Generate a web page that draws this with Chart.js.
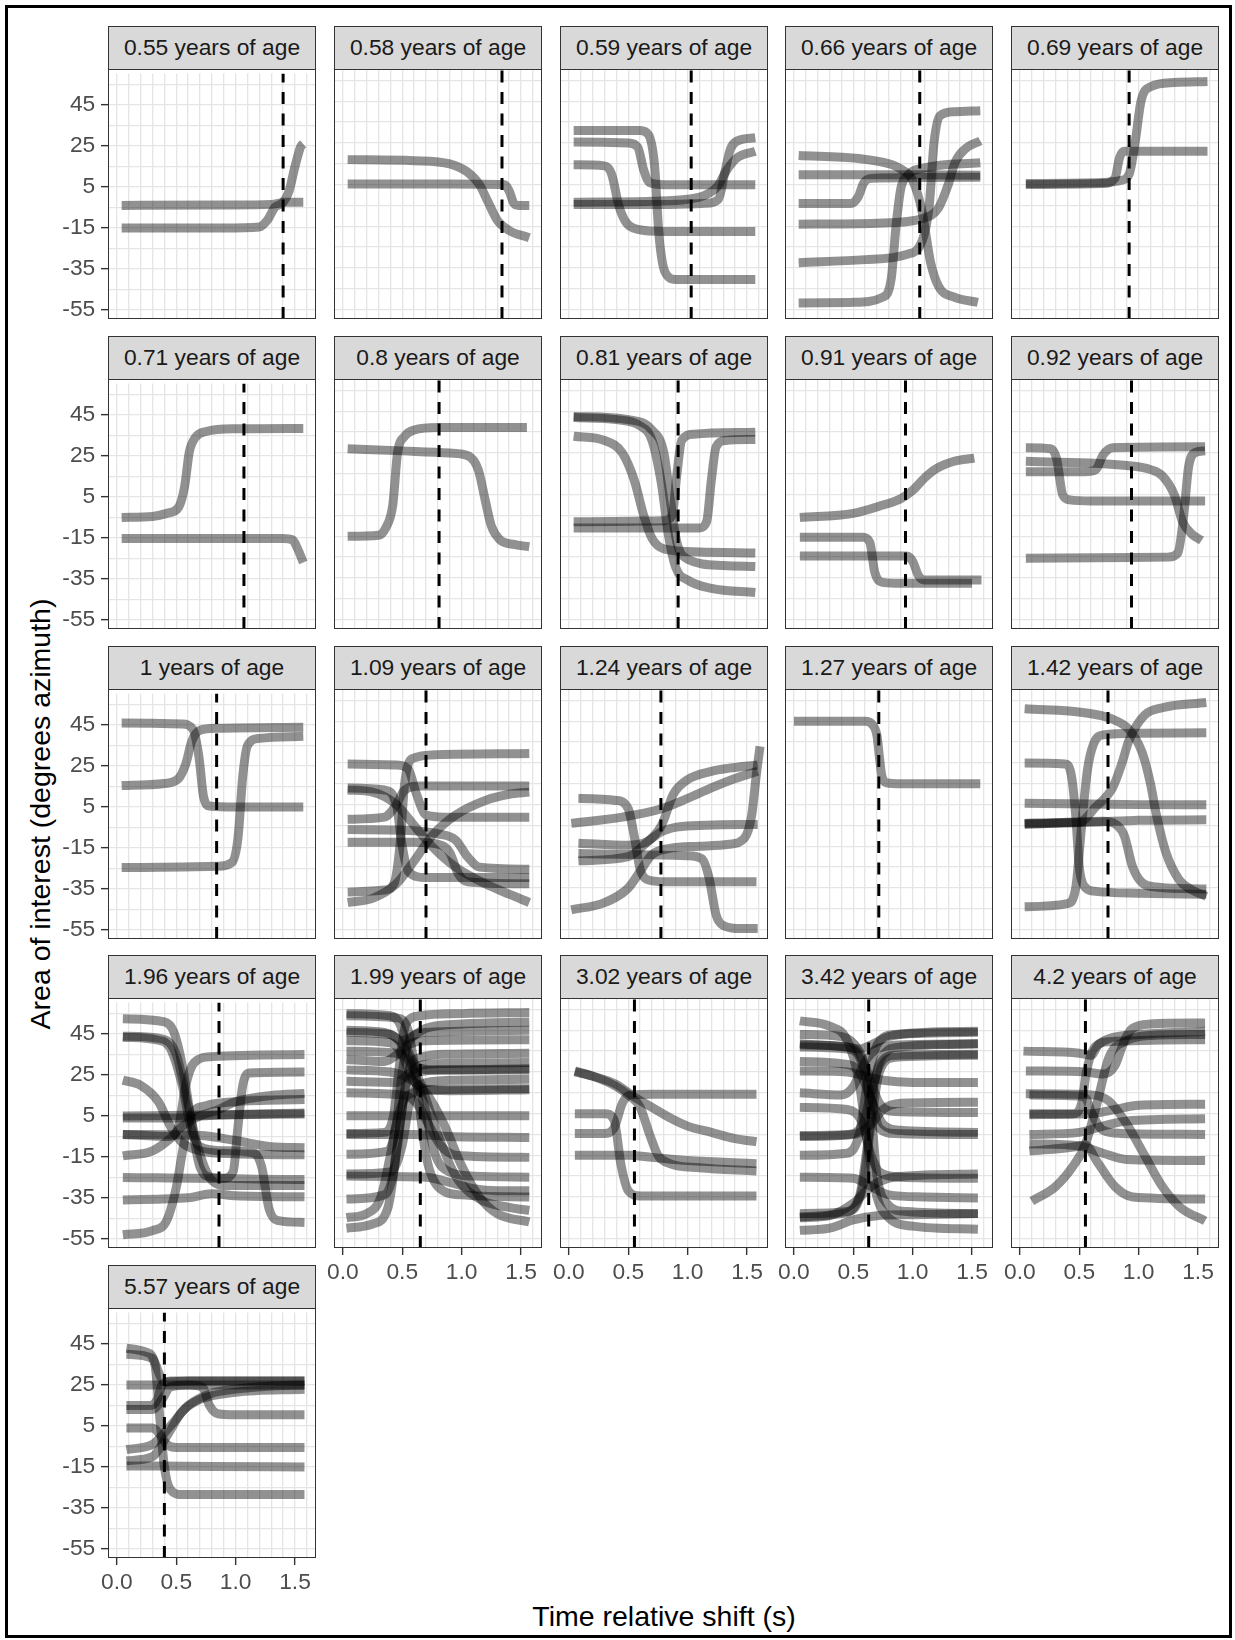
<!DOCTYPE html>
<html>
<head>
<meta charset="utf-8">
<script src="https://cdn.jsdelivr.net/npm/chart.js@4.4.1/dist/chart.umd.min.js"></script>
<style>
  body { margin: 0; background: #fff; }
  #page { position: relative; width: 1235px; height: 1640px; overflow: hidden; font-family: "Liberation Sans", Arial, sans-serif; }
  #frame { position: absolute; left: 5px; top: 5px; width: 1221px; height: 1627px; border: 3px solid #000; }
  .strip { position: absolute; box-sizing: border-box; background: #d9d9d9; border: 1.4px solid #333; color: #1a1a1a; font-size: 22.8px; text-align: center; line-height: 41px; white-space: nowrap; }
  .pborder { position: absolute; box-sizing: border-box; border: 1.4px solid #333; pointer-events: none; }
  canvas { position: absolute; }
  .title { position: absolute; font-size: 28.5px; color: #000; white-space: nowrap; }
</style>
</head>
<body>
<div id="page">
  <div id="frame"></div>
  <div class="title" id="ytitle" style="left:40px;top:814px;transform:translate(-50%,-50%) rotate(-90deg);">Area of interest (degrees azimuth)</div>
  <div class="title" id="xtitle" style="left:664px;top:1616px;transform:translate(-50%,-50%);">Time relative shift (s)</div>
</div>
<script>
// Facets
const panelAges = ['0.55', '0.58', '0.59', '0.66', '0.69', '0.71', '0.8', '0.81', '0.91', '0.92',
  '1', '1.09', '1.24', '1.27', '1.42', '1.96', '1.99', '3.02', '3.42', '4.2', '5.57'];
// dashed vertical line per facet (s)
const dashX = [1.40, 1.34, 1.03, 1.06, 0.92, 1.07, 0.81, 0.92, 0.94, 0.94,
  0.84, 0.70, 0.775, 0.715, 0.742, 0.86, 0.652, 0.552, 0.63, 0.552, 0.40];

// Axes
const xTicks = [0, 0.5, 1, 1.5];
const yTicks = [45, 25, 5, -15, -35, -55];
const xGrid = [0, 0.1, 0.2, 0.3, 0.4, 0.5, 0.6, 0.7, 0.8, 0.9, 1, 1.1, 1.2, 1.3, 1.4, 1.5, 1.6];
const yGrid = [55, 45, 35, 25, 15, 5, -5, -15, -25, -35, -45, -55];

// Curves per facet: [time, azimuth]
const p055 = [
  [[0.04, -4], [0.9, -3.8], [1.3, -3.5], [1.42, -2.5], [1.57, -2.5]],
  [[0.04, -15], [0.9, -15], [1.2, -14.5], [1.27, -11], [1.33, -5], [1.4, -2.5], [1.45, 3], [1.5, 15], [1.55, 25], [1.57, 26]]
];
const p058 = [
  [[0.04, 17], [0.6, 16.5], [0.9, 15], [1.05, 11], [1.15, 5], [1.22, -3], [1.3, -12], [1.4, -17], [1.57, -20.5]],
  [[0.04, 5.3], [0.9, 5.3], [1.36, 5], [1.4, 2], [1.44, -4], [1.48, -5], [1.57, -5]]
];
const p059 = [
  [[0.04, 31], [0.6, 31], [0.67, 29], [0.72, 15], [0.76, -20], [0.81, -37], [0.9, -40.5], [1.57, -40.5]],
  [[0.04, 25.5], [0.5, 25], [0.58, 23], [0.63, 12], [0.68, 6], [0.8, 5], [1.57, 5]],
  [[0.04, 14.5], [0.3, 14], [0.36, 10], [0.42, -5], [0.48, -13], [0.58, -16.5], [0.8, -17.5], [1.57, -17.5]],
  [[0.04, -3.5], [0.7, -3], [1.0, -2], [1.15, 0], [1.25, 4], [1.33, 12], [1.42, 18], [1.57, 21]],
  [[0.04, -4.5], [0.8, -4.5], [1.15, -4], [1.26, -2], [1.31, 10], [1.36, 22], [1.42, 26], [1.57, 27.5]]
];
const p066 = [
  [[0.04, 19], [0.55, 17.5], [0.8, 15], [0.9, 12.5], [1.0, 7], [1.08, -8], [1.15, -32], [1.22, -44], [1.35, -49], [1.55, -51.5]],
  [[0.04, 9.8], [0.8, 9.8], [1.57, 9.5]],
  [[0.04, -4], [0.48, -4], [0.54, -1], [0.59, 6], [0.65, 8], [1.57, 8.5]],
  [[0.04, -14], [0.7, -13.5], [1.1, -11], [1.22, -6], [1.3, 5], [1.36, 16], [1.44, 22], [1.57, 26]],
  [[0.04, -32.5], [0.6, -31], [0.95, -28.5], [1.08, -22], [1.14, -5], [1.18, 25], [1.23, 38], [1.35, 40], [1.57, 40.5]],
  [[0.04, -51.8], [0.5, -51.5], [0.75, -49], [0.82, -40], [0.86, -15], [0.9, 3], [0.95, 9], [1.1, 13], [1.57, 15.5]]
];
const p069 = [
  [[0.05, 5.5], [0.7, 6], [0.85, 7], [0.92, 10], [0.97, 25], [1.02, 45], [1.1, 52], [1.3, 54], [1.58, 54.5]],
  [[0.05, 5], [0.7, 5.5], [0.8, 8], [0.84, 18], [0.88, 21], [1.58, 21]]
];
const p071 = [
  [[0.04, -5], [0.3, -4.5], [0.42, -3], [0.52, 0], [0.57, 10], [0.61, 27], [0.66, 34], [0.75, 37], [1.0, 38.3], [1.57, 38.5]],
  [[0.04, -15.3], [1.4, -15.3], [1.48, -16], [1.52, -20], [1.57, -27]]
];
const p080 = [
  [[0.04, -15], [0.3, -14.5], [0.36, -11], [0.42, 0], [0.46, 25], [0.52, 33], [0.6, 36], [0.8, 37.2], [1.55, 37.2]],
  [[0.04, 27], [0.5, 26], [0.9, 25], [1.06, 23.5], [1.14, 17], [1.2, 2], [1.25, -10], [1.32, -16.5], [1.45, -19], [1.57, -20]]
];
const p081 = [
  [[0.04, 42], [0.4, 41], [0.6, 38], [0.7, 31], [0.78, 10], [0.84, -15], [0.9, -30], [1.0, -36], [1.2, -40], [1.57, -42]],
  [[0.04, 42.5], [0.5, 41], [0.7, 36], [0.8, 25], [0.86, 0], [0.91, -18], [1.0, -26], [1.3, -29], [1.57, -29.5]],
  [[0.04, 33], [0.3, 31], [0.45, 25], [0.55, 12], [0.63, -5], [0.7, -16], [0.8, -21], [1.1, -22.5], [1.57, -23]],
  [[0.04, -8], [0.8, -7.5], [0.87, -5], [0.91, 15], [0.95, 31], [1.05, 34], [1.57, 35]],
  [[0.04, -11], [1.1, -11], [1.16, -8], [1.2, 12], [1.24, 28], [1.32, 31], [1.57, 31.5]]
];
const p091 = [
  [[0.05, -6], [0.5, -4], [0.75, 0], [0.9, 3], [1.0, 7], [1.1, 13], [1.2, 17.5], [1.35, 21], [1.52, 22.5]],
  [[0.05, -15.5], [0.58, -15.5], [0.64, -18], [0.68, -32], [0.74, -37], [0.85, -37.5], [1.5, -37.5]],
  [[0.05, -24.5], [0.95, -24.5], [1.0, -27], [1.05, -34], [1.1, -36], [1.58, -36]]
];
const p092 = [
  [[0.05, 27.5], [0.26, 27], [0.31, 22], [0.36, 5], [0.42, 2.5], [0.6, 2], [1.56, 2]],
  [[0.05, 16], [0.55, 16], [0.64, 17], [0.7, 24], [0.78, 27.5], [1.56, 28]],
  [[0.05, 21], [0.9, 19], [1.1, 17], [1.2, 14], [1.3, 5], [1.37, -8], [1.45, -14], [1.53, -17]],
  [[0.05, -25.5], [1.25, -25], [1.33, -23], [1.38, -5], [1.42, 18], [1.47, 25], [1.56, 26]]
];
const p100 = [
  [[0.04, 46], [0.55, 45.5], [0.64, 43], [0.69, 30], [0.73, 10], [0.78, 5.5], [1.0, 5], [1.57, 5]],
  [[0.04, 15.5], [0.4, 16.5], [0.52, 19], [0.58, 26], [0.63, 37], [0.7, 42.5], [0.85, 43.5], [1.57, 44]],
  [[0.04, -24.6], [0.85, -24], [0.97, -22], [1.02, -10], [1.06, 20], [1.1, 35], [1.2, 38.5], [1.57, 39.5]]
];
const p109 = [
  [[0.04, 24.5], [0.45, 24], [0.55, 22], [0.62, 10], [0.7, 0], [0.85, -1], [1.57, -1]],
  [[0.04, 12], [0.25, 11], [0.45, 5], [0.6, -5], [0.75, -15], [0.95, -25], [1.2, -33], [1.4, -38], [1.57, -42]],
  [[0.04, -42], [0.25, -40], [0.45, -33], [0.6, -22], [0.75, -10], [0.95, 0], [1.2, 7], [1.4, 10], [1.57, 11]],
  [[0.04, -37], [0.35, -36], [0.43, -33], [0.48, -15], [0.52, 15], [0.58, 27], [0.8, 29], [1.57, 29.5]],
  [[0.04, 13], [0.35, 12], [0.45, 5], [0.5, -15], [0.55, -27], [0.7, -30], [1.57, -30]],
  [[0.04, -2], [0.35, -1], [0.45, 5], [0.52, 12], [0.65, 14], [1.57, 14]],
  [[0.04, -7], [0.6, -7.5], [0.8, -9], [0.95, -12], [1.05, -20], [1.15, -25], [1.57, -26]],
  [[0.04, -13], [0.6, -13], [0.8, -14], [0.9, -18], [0.97, -28], [1.05, -32], [1.57, -33]]
];
const p124 = [
  [[0.08, 8], [0.4, 7], [0.5, 3], [0.55, -10], [0.6, -26], [0.66, -31], [0.8, -32], [1.58, -32]],
  [[0.02, -4], [0.45, -1], [0.78, 3], [1.0, 8], [1.2, 13], [1.4, 17.5], [1.59, 21]],
  [[0.08, -13.5], [0.5, -14.5], [0.65, -13], [0.78, -8], [0.95, -5.5], [1.59, -4.5]],
  [[0.08, -18.5], [0.6, -19], [1.0, -19.5], [1.12, -21], [1.18, -30], [1.24, -48], [1.3, -53], [1.45, -54.5], [1.59, -54.5]],
  [[0.08, -22], [0.5, -20], [0.62, -15], [0.78, -5], [0.88, 10], [1.0, 17], [1.2, 21], [1.35, 22.5], [1.59, 24]],
  [[0.02, -45.5], [0.3, -42], [0.5, -35], [0.6, -27], [0.7, -19], [0.85, -16], [1.1, -15], [1.35, -14], [1.48, -11], [1.54, 0], [1.58, 20], [1.61, 33]]
];
const p127 = [
  [[0.0, 45], [0.6, 45], [0.66, 43.5], [0.7, 38], [0.72, 28], [0.74, 19], [0.78, 15.5], [0.9, 15], [1.57, 15]]
];
const p142 = [
  [[0.04, 51], [0.56, 49], [0.78, 46], [0.92, 41], [1.03, 30], [1.1, 15], [1.15, 0], [1.23, -18], [1.34, -31], [1.45, -36], [1.57, -39]],
  [[0.04, 5.7], [0.6, 5.3], [1.0, 5], [1.57, 4.9]],
  [[0.04, 25], [0.38, 24.5], [0.43, 20], [0.47, 0], [0.5, -25], [0.54, -34], [0.62, -36.5], [1.0, -37.5], [1.57, -38]],
  [[0.04, -44], [0.4, -42.5], [0.47, -35], [0.52, -5], [0.57, 22], [0.62, 34], [0.7, 38.5], [1.0, 39.3], [1.57, 39.5]],
  [[0.04, -4], [0.5, -3.5], [0.64, 4], [0.78, 13], [0.86, 25], [0.92, 36], [1.05, 48], [1.2, 51.5], [1.57, 54]],
  [[0.04, -4.5], [0.7, -3], [0.82, -5], [0.88, -10], [0.95, -25], [1.03, -32.5], [1.15, -34.5], [1.57, -35.5]],
  [[0.04, -4], [0.6, -3.5], [1.0, -2.5], [1.57, -2.3]]
];
const p196 = [
  [[0.05, 52.5], [0.4, 51], [0.48, 46], [0.55, 30], [0.62, 5], [0.7, -20], [0.8, -25], [1.58, -26]],
  [[0.05, 43.5], [0.35, 42], [0.45, 38], [0.55, 20], [0.62, 0], [0.7, -10], [0.9, -12], [1.15, -13], [1.22, -20], [1.28, -40], [1.35, -46], [1.58, -47]],
  [[0.05, 44], [0.35, 43], [0.5, 35], [0.6, 10], [0.68, -10], [0.78, -25], [0.9, -29], [1.58, -29]],
  [[0.05, 22.5], [0.2, 20], [0.35, 12], [0.45, 0], [0.55, -8], [0.7, -12], [1.0, -13.5], [1.58, -14]],
  [[0.05, 5], [0.8, 5.5], [1.58, 6]],
  [[0.05, 4], [0.5, 4], [0.7, 5], [1.58, 6.5]],
  [[0.05, -4], [0.45, -5], [0.52, 0], [0.58, 20], [0.65, 31], [0.8, 34], [1.58, 35]],
  [[0.05, -4], [0.7, -4.5], [1.0, -7], [1.3, -10], [1.58, -10.5]],
  [[0.05, -14.5], [0.3, -12], [0.45, -6], [0.55, 0], [0.7, 5], [0.85, 8], [1.0, 12], [1.3, 15], [1.58, 16]],
  [[0.05, -25], [0.9, -25.5], [0.98, -22], [1.02, 0], [1.06, 20], [1.12, 26], [1.58, 26.5]],
  [[0.05, -36], [0.6, -35], [0.8, -33], [1.0, -34], [1.58, -34.5]],
  [[0.05, -53], [0.3, -51], [0.42, -46], [0.5, -30], [0.56, -10], [0.62, 5], [0.75, 10], [1.0, 12], [1.58, 13]]
];
const p199 = [
  [[0.03, 53], [0.4, 52], [0.48, 48], [0.55, 35], [0.62, 28], [0.75, 26], [1.57, 26.5]],
  [[0.03, 52], [0.45, 51], [0.55, 45], [0.62, 20], [0.7, -15], [0.8, -30], [1.0, -34], [1.57, -35]],
  [[0.03, 44], [0.4, 43], [0.5, 40], [0.58, 42], [0.7, 46], [1.0, 48], [1.57, 49]],
  [[0.03, 45], [0.35, 44], [0.5, 38], [0.65, 20], [0.8, -5], [0.95, -25], [1.15, -36], [1.4, -40], [1.57, -41.5]],
  [[0.03, 40], [0.4, 39], [0.5, 33], [0.58, 22], [0.68, 17], [0.9, 16], [1.57, 16.5]],
  [[0.03, 35], [0.45, 34], [0.58, 28], [0.68, 10], [0.78, -15], [0.9, -23], [1.1, -25], [1.57, -25.5]],
  [[0.03, 31], [0.35, 30], [0.45, 33], [0.55, 38], [0.7, 40], [1.57, 40.5]],
  [[0.03, 26], [0.4, 25], [0.55, 22], [0.7, 15], [0.85, 0], [1.0, -20], [1.15, -35], [1.3, -43], [1.57, -47]],
  [[0.03, 20.5], [0.45, 20], [0.55, 24], [0.65, 28], [0.8, 29], [1.57, 29.5]],
  [[0.03, 15], [0.5, 14], [0.62, 10], [0.72, 0], [0.82, -10], [0.95, -15], [1.57, -16]],
  [[0.03, 4], [0.8, 4], [1.57, 4]],
  [[0.03, -4.5], [0.35, -4], [0.43, 5], [0.48, 30], [0.53, 48], [0.65, 52], [1.0, 53], [1.57, 53.5]],
  [[0.03, -5], [0.6, -5], [0.9, -6], [1.57, -6.5]],
  [[0.03, -14.5], [0.38, -13], [0.45, 0], [0.5, 25], [0.56, 40], [0.7, 44], [1.57, 45]],
  [[0.03, -24], [0.4, -23], [0.5, -10], [0.56, 10], [0.65, 19], [0.9, 21], [1.57, 21.5]],
  [[0.03, -25], [0.7, -25.5], [0.9, -28], [1.1, -31], [1.3, -32], [1.57, -32]],
  [[0.03, -36], [0.35, -34], [0.42, -25], [0.48, 0], [0.55, 25], [0.65, 32], [0.9, 33.5], [1.57, 34]],
  [[0.03, -45], [0.2, -43], [0.32, -35], [0.4, -15], [0.47, 5], [0.55, 14], [0.8, 16.5], [1.57, 17]],
  [[0.03, -50], [0.25, -48], [0.38, -40], [0.46, -10], [0.52, 15], [0.6, 24], [0.8, 26], [1.57, 26]]
];
const p302 = [
  [[0.05, 25], [0.2, 23], [0.4, 19], [0.55, 13], [0.7, 8], [0.85, 3], [1.0, -1], [1.2, -4], [1.4, -7], [1.58, -8.5]],
  [[0.05, 25.5], [0.2, 23], [0.4, 18], [0.5, 14], [0.6, 8], [0.68, -5], [0.75, -15], [0.85, -19], [1.1, -21], [1.58, -22.5]],
  [[0.05, 5], [0.3, 5], [0.38, 2], [0.44, -20], [0.5, -32], [0.6, -34.5], [1.58, -34.5]],
  [[0.05, -4.5], [0.3, -4.5], [0.38, -2], [0.45, 10], [0.52, 14], [0.7, 14.3], [1.58, 14.3]],
  [[0.05, -15], [0.5, -15], [0.7, -16], [1.0, -17.5], [1.58, -19]]
];
const p342 = [
  [[0.05, 49.5], [0.3, 47], [0.45, 40], [0.55, 20], [0.62, -10], [0.7, -35], [0.8, -45], [1.0, -49], [1.55, -50.5]],
  [[0.05, 43], [0.4, 42], [0.55, 35], [0.65, 20], [0.72, 10], [0.85, 6], [1.55, 5.5]],
  [[0.05, 38], [0.45, 37], [0.58, 30], [0.66, 10], [0.72, -2], [0.85, -4.5], [1.55, -5]],
  [[0.05, 38.5], [0.45, 37], [0.55, 36], [0.65, 38], [0.8, 42], [1.1, 44], [1.55, 44.5]],
  [[0.05, 37], [0.45, 36], [0.58, 28], [0.65, 5], [0.7, -25], [0.78, -38], [0.95, -42], [1.55, -43]],
  [[0.05, 30], [0.4, 29], [0.55, 25], [0.65, 12], [0.75, 0], [0.9, -3], [1.55, -4]],
  [[0.05, 25.5], [0.45, 25], [0.6, 23], [0.75, 21], [1.0, 20], [1.55, 20]],
  [[0.05, 15], [0.4, 14], [0.5, 18], [0.6, 30], [0.7, 36], [0.9, 38], [1.55, 38.5]],
  [[0.05, 8], [0.45, 7], [0.58, 0], [0.65, -15], [0.72, -23], [0.9, -25.5], [1.55, -26]],
  [[0.05, -5.5], [0.45, -5], [0.58, 0], [0.65, 15], [0.72, 28], [0.85, 33], [1.55, 33.5]],
  [[0.05, -6], [0.5, -5], [0.65, 0], [0.75, 7], [0.9, 10], [1.55, 10.5]],
  [[0.05, -15], [0.45, -14], [0.55, -5], [0.62, 20], [0.7, 38], [0.85, 43], [1.55, 44]],
  [[0.05, -25.5], [0.5, -26], [0.65, -30], [0.8, -34], [1.1, -35], [1.55, -35.5]],
  [[0.05, -44.5], [0.4, -43], [0.55, -35], [0.62, -10], [0.68, 20], [0.75, 33], [0.9, 37], [1.55, 38.5]],
  [[0.05, -43], [0.45, -42], [0.58, -30], [0.65, 0], [0.72, 25], [0.85, 32], [1.55, 33]],
  [[0.05, -45], [0.3, -44], [0.5, -38], [0.65, -30], [0.8, -26], [1.1, -24.5], [1.55, -24]],
  [[0.05, -51], [0.3, -50], [0.5, -46], [0.7, -44], [1.0, -43.5], [1.55, -43]]
];
const p420 = [
  [[0.03, 35], [0.5, 34], [0.6, 33], [0.66, 38], [0.75, 41], [1.0, 43], [1.56, 44.5]],
  [[0.05, 25.5], [0.55, 25], [0.7, 24], [0.8, 28], [0.88, 40], [0.95, 46], [1.1, 48], [1.56, 48.5]],
  [[0.05, 14.5], [0.6, 14], [0.75, 11], [0.9, 0], [1.05, -15], [1.2, -30], [1.35, -40], [1.56, -46.5]],
  [[0.08, 14], [0.5, 13.5], [0.56, 12], [0.6, 6], [0.7, -3], [0.85, -4.5], [1.56, -5]],
  [[0.08, 5], [0.45, 5], [0.52, 10], [0.56, 25], [0.62, 36], [0.75, 39.5], [1.56, 40.5]],
  [[0.08, 4.5], [0.6, 5], [0.8, 7], [1.0, 9], [1.56, 9.5]],
  [[0.08, -5], [0.5, -4], [0.7, -1], [0.9, 1.5], [1.56, 2.5]],
  [[0.08, -9.5], [0.5, -10.5], [0.7, -14], [0.9, -17], [1.56, -17.5]],
  [[0.08, -13], [0.45, -11], [0.55, -10], [0.65, -18], [0.8, -30], [0.95, -35], [1.56, -36]],
  [[0.1, -37], [0.3, -30], [0.45, -20], [0.55, -10], [0.65, 10], [0.75, 32], [0.9, 40], [1.1, 42.5], [1.56, 43]]
];
const p557 = [
  [[0.08, 43], [0.25, 41], [0.32, 35], [0.36, 10], [0.4, -15], [0.45, -26], [0.55, -28.5], [1.58, -28.5]],
  [[0.08, 40], [0.3, 38], [0.36, 30], [0.4, 26.5], [0.6, 27], [1.58, 27]],
  [[0.08, 25], [0.8, 25], [1.58, 25]],
  [[0.08, 15], [0.28, 15], [0.34, 18], [0.38, 25], [0.45, 27], [1.58, 27]],
  [[0.08, 13], [0.3, 13], [0.38, 18], [0.45, 24], [0.6, 25], [0.72, 24], [0.78, 15], [0.85, 11], [1.0, 10.5], [1.58, 10.5]],
  [[0.08, 4], [0.3, 4], [0.36, 1], [0.42, -4], [0.5, -5.5], [1.58, -5.5]],
  [[0.08, -6.5], [0.3, -4], [0.45, 5], [0.6, 15], [0.8, 21], [1.0, 23], [1.3, 24.5], [1.58, 25]],
  [[0.08, -12], [0.3, -10], [0.42, 0], [0.55, 12], [0.7, 18], [1.0, 21.5], [1.58, 23]],
  [[0.08, -14.5], [0.8, -14.8], [1.58, -15]]
];

const panelCurves = [p055, p058, p059, p066, p069, p071, p080, p081, p091, p092,
  p100, p109, p124, p127, p142, p196, p199, p302, p342, p420, p557];

// Layout (px)
const PLOT_W = 208, PLOT_H = 250;
const Y_AXIS_W = 100, X_AXIS_H = 45, PAD_TOP = 15, PAD_RIGHT = 20;
const STRIP_H = 43;
const X_MIN = -0.075, X_MAX = 1.677, Y_MIN = -59.5, Y_MAX = 60.5;
const FONT = '"Liberation Sans", Arial, sans-serif';

const page = document.getElementById('page');

function colLeft(c) { return Math.round(107.7 + c * 225.9); }
function rowTop(r) { return Math.round(69 + r * 309.8); }

function buildPanel(i) {
  const col = i % 5, row = Math.floor(i / 5);
  const left = colLeft(col), top = rowTop(row);
  const showY = col === 0;
  const showX = i >= 16;

  // strip
  const strip = document.createElement('div');
  strip.className = 'strip';
  strip.style.left = left + 'px';
  strip.style.top = (top - STRIP_H) + 'px';
  strip.style.width = PLOT_W + 'px';
  strip.style.height = (STRIP_H + 1) + 'px';
  strip.innerText = panelAges[i] + ' years of age';
  page.appendChild(strip);

  // canvas
  const canvas = document.createElement('canvas');
  const cw = Y_AXIS_W + PLOT_W + PAD_RIGHT, ch = PAD_TOP + PLOT_H + X_AXIS_H;
  canvas.width = cw; canvas.height = ch;
  canvas.style.width = cw + 'px'; canvas.style.height = ch + 'px';
  canvas.style.left = (left - Y_AXIS_W) + 'px';
  canvas.style.top = (top - PAD_TOP) + 'px';
  page.appendChild(canvas);

  const datasets = panelCurves[i].map(pts => ({
    data: pts.map(p => ({ x: p[0], y: p[1] })),
    borderColor: 'rgba(0,0,0,0.43)',
    borderWidth: 9,
    borderJoinStyle: 'round',
    pointRadius: 0,
    fill: false,
    cubicInterpolationMode: 'monotone',
    order: 1
  }));
  // dashed marker, drawn bottom to top like geom_vline
  datasets.unshift({
    data: [{ x: dashX[i], y: Y_MIN }, { x: dashX[i], y: Y_MAX }],
    borderColor: '#000',
    borderWidth: 3,
    borderDash: [12, 9.5],
    pointRadius: 0,
    fill: false,
    tension: 0,
    order: 0
  });

  new Chart(canvas.getContext('2d'), {
    type: 'line',
    data: { datasets },
    options: {
      responsive: false,
      animation: false,
      devicePixelRatio: 1,
      layout: { padding: { top: PAD_TOP, right: PAD_RIGHT, left: 0, bottom: 0 } },
      plugins: { legend: { display: false }, tooltip: { enabled: false } },
      scales: {
        x: {
          type: 'linear', min: X_MIN, max: X_MAX,
          afterBuildTicks: s => { s.ticks = xGrid.map(v => ({ value: v })); },
          afterFit: s => { s.height = X_AXIS_H; },
          border: { display: false },
          grid: {
            color: '#e5e5e5', lineWidth: 1.3,
            drawTicks: showX, tickLength: 7, tickWidth: 1.4,
            tickColor: c => (c.tick && xTicks.includes(c.tick.value)) ? '#333' : 'rgba(0,0,0,0)'
          },
          ticks: {
            display: showX, autoSkip: false, maxRotation: 0, padding: 4,
            color: '#4d4d4d', font: { family: FONT, size: 22.8 },
            callback: v => xTicks.includes(v) ? v.toFixed(1) : ''
          }
        },
        y: {
          type: 'linear', min: Y_MIN, max: Y_MAX,
          afterBuildTicks: s => { s.ticks = yGrid.map(v => ({ value: v })); },
          afterFit: s => { s.width = Y_AXIS_W; },
          border: { display: false },
          grid: {
            color: '#e5e5e5', lineWidth: 1.3,
            drawTicks: showY, tickLength: 7, tickWidth: 1.4,
            tickColor: c => (c.tick && yTicks.includes(c.tick.value)) ? '#333' : 'rgba(0,0,0,0)'
          },
          ticks: {
            display: showY, autoSkip: false, padding: 5.7,
            color: '#4d4d4d', font: { family: FONT, size: 22.8 },
            callback: v => yTicks.includes(v) ? String(v) : ''
          }
        }
      }
    }
  });

  // panel border on top
  const border = document.createElement('div');
  border.className = 'pborder';
  border.style.left = left + 'px';
  border.style.top = top + 'px';
  border.style.width = PLOT_W + 'px';
  border.style.height = PLOT_H + 'px';
  page.appendChild(border);
}

panelAges.forEach((age, i) => buildPanel(i));
</script>
</body>
</html>
